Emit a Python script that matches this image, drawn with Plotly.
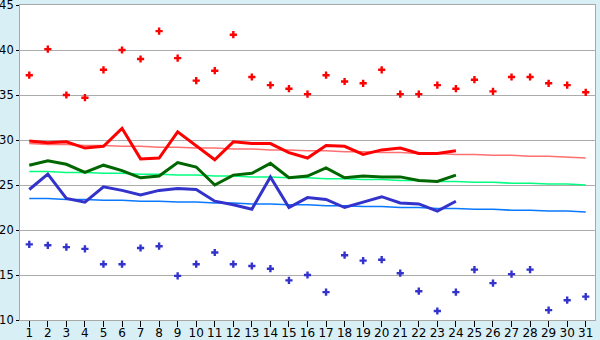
import plotly.graph_objects as go

days = list(range(1, 32))
obs_days = list(range(1, 25))

# Daily extremes (scatter)
max_temp = [37.2, 40.1, 35.0, 34.7, 37.8, 40.0, 39.0, 42.1, 39.1, 36.6,
            37.7, 41.7, 37.0, 36.1, 35.7, 35.1, 37.2, 36.5, 36.3, 37.8,
            35.1, 35.1, 36.1, 35.7, 36.7, 35.4, 37.0, 37.0, 36.3, 36.1, 35.3]
min_temp = [18.4, 18.3, 18.1, 17.9, 16.2, 16.2, 18.0, 18.2, 14.9, 16.2,
            17.5, 16.2, 16.0, 15.7, 14.4, 15.0, 13.1, 17.2, 16.6, 16.7,
            15.2, 13.2, 11.0, 13.1, 15.6, 14.1, 15.1, 15.6, 11.1, 12.2, 12.6]

# Observed daily means (days 1-24)
obs_high = [29.9, 29.7, 29.8, 29.1, 29.3, 31.3, 27.9, 28.0, 30.9, 29.3,
            27.8, 29.8, 29.6, 29.6, 28.6, 28.0, 29.4, 29.3, 28.4, 28.9,
            29.1, 28.5, 28.5, 28.8]
obs_mean = [27.2, 27.7, 27.3, 26.4, 27.2, 26.6, 25.8, 26.0, 27.5, 27.0,
            25.0, 26.1, 26.3, 27.4, 25.8, 26.0, 26.9, 25.8, 26.0, 25.9,
            25.9, 25.5, 25.4, 26.1]
obs_low = [24.5, 26.2, 23.5, 23.1, 24.8, 24.4, 23.9, 24.4, 24.6, 24.5,
           23.2, 22.8, 22.3, 25.9, 22.5, 23.6, 23.4, 22.5, 23.1, 23.7,
           23.0, 22.9, 22.1, 23.2]

# Climatological normals (days 1-31)
norm_high = [29.6, 29.5, 29.5, 29.4, 29.4, 29.3, 29.3, 29.2, 29.2, 29.1,
             29.1, 29.0, 29.0, 28.9, 28.9, 28.8, 28.8, 28.7, 28.7, 28.6,
             28.6, 28.5, 28.5, 28.4, 28.4, 28.3, 28.3, 28.2, 28.2, 28.1, 28.0]
norm_mean = [26.5, 26.5, 26.4, 26.4, 26.3, 26.3, 26.2, 26.2, 26.1, 26.1,
             26.0, 26.0, 25.9, 25.9, 25.8, 25.8, 25.7, 25.7, 25.6, 25.6,
             25.5, 25.5, 25.4, 25.4, 25.3, 25.3, 25.2, 25.2, 25.1, 25.1, 25.0]
norm_low = [23.5, 23.5, 23.4, 23.4, 23.3, 23.3, 23.2, 23.2, 23.1, 23.1,
            23.0, 23.0, 22.9, 22.9, 22.8, 22.8, 22.7, 22.7, 22.6, 22.6,
            22.5, 22.5, 22.4, 22.4, 22.3, 22.3, 22.2, 22.2, 22.1, 22.1, 22.0]

y_ticks = [10, 15, 20, 25, 30, 35, 40, 45]

fig = go.Figure()

for vals, col in [(norm_high, "#FF7070"), (norm_mean, "#00FF80"), (norm_low, "#0A78FF")]:
    fig.add_trace(go.Scatter(x=days, y=vals, mode="lines",
                             line=dict(color=col, width=1.5), hoverinfo="skip"))

for vals, col in [(obs_high, "#FF0000"), (obs_mean, "#006600"), (obs_low, "#3333CC")]:
    fig.add_trace(go.Scatter(x=obs_days, y=vals, mode="lines",
                             line=dict(color=col, width=3)))

fig.add_trace(go.Scatter(x=days, y=max_temp, mode="markers",
                         marker=dict(symbol="cross", size=6, color="#FF0000")))
fig.add_trace(go.Scatter(x=days, y=min_temp, mode="markers",
                         marker=dict(symbol="cross", size=6, color="#3333CC")))

x_font = dict(family="DejaVu Sans", size=12, color="#000000")
y_font = dict(family="DejaVu Sans", size=11.5, color="#000000")

fig.update_layout(
    width=600, height=340,
    margin=dict(l=20, r=5, t=5, b=20),
    paper_bgcolor="#D9EFF6",
    plot_bgcolor="#FFFFFF",
    showlegend=False,
    xaxis=dict(range=[0.5, 31.5], tickmode="array", tickvals=days,
               ticktext=[str(d) for d in days], ticks="outside", ticklen=6,
               tickcolor="#000000", showgrid=False, zeroline=False,
               showline=True, linecolor="#A8A8A8", linewidth=1, mirror=True,
               tickfont=x_font, fixedrange=True, ticklabeloverflow="allow",
               ticklabelstandoff=-4, automargin=False),
    yaxis=dict(range=[10, 45], tickmode="array", tickvals=y_ticks,
               ticks="outside", ticklen=3, tickcolor="#000000",
               showgrid=True, gridcolor="#ABABAB", gridwidth=1, zeroline=False,
               showline=True, linecolor="#A8A8A8", linewidth=1, mirror=True,
               tickfont=y_font, fixedrange=True, automargin=False,
               ticklabeloverflow="allow"),
)

fig.write_html("out.html", config={"displayModeBar": False})
